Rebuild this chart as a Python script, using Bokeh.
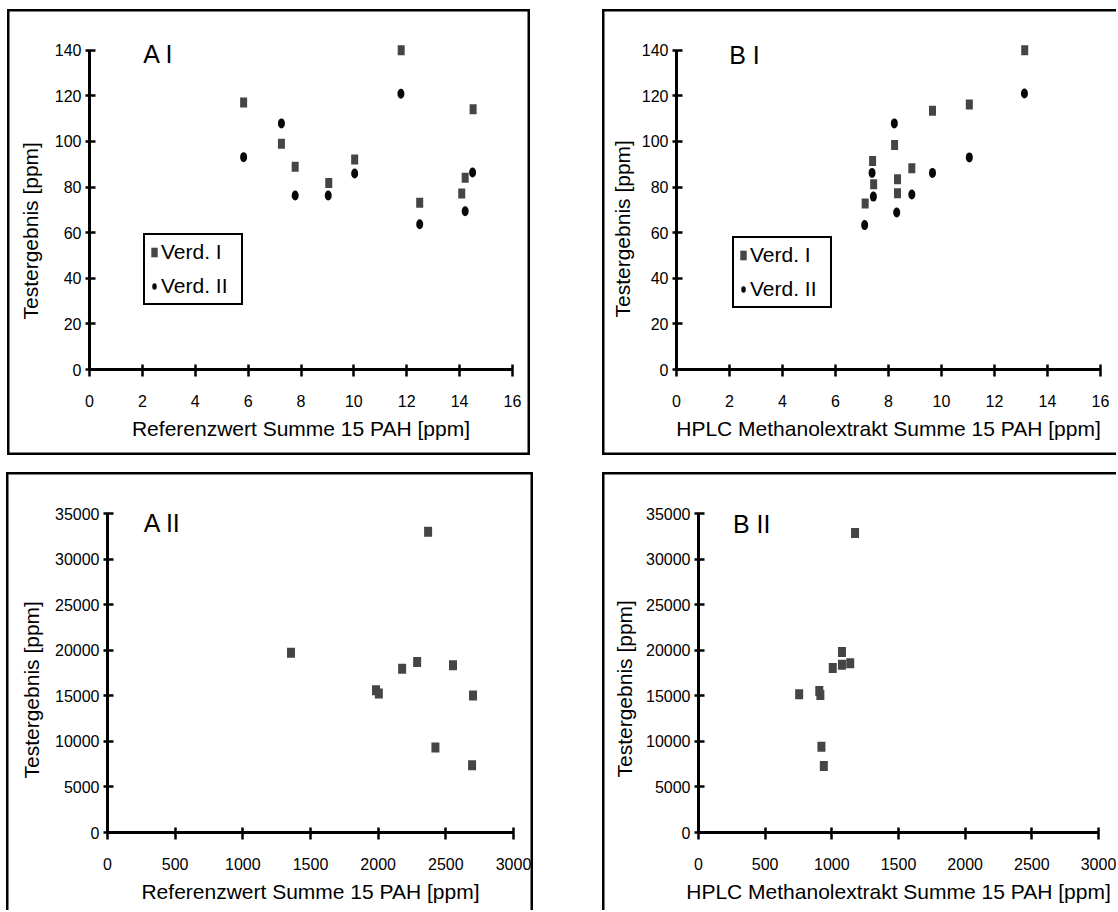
from bokeh.plotting import figure
from bokeh.models import Range1d, Label, FixedTicker, Title
from bokeh.layouts import column, row
from bokeh.embed import file_html
from bokeh.resources import INLINE

# ---------------- data ----------------
# Panel A I : Testergebnis vs Referenzwert
ai_ref_v1 = [5.83, 7.26, 7.78, 9.05, 10.03, 11.79, 12.49, 14.08, 14.21, 14.51]
ai_test_v1 = [117.1, 99.0, 88.9, 81.8, 92.1, 140.0, 73.1, 77.2, 84.1, 114.1]
ai_ref_v2 = [5.83, 7.26, 7.78, 9.03, 10.03, 11.78, 12.49, 14.21, 14.49]
ai_test_v2 = [93.1, 107.9, 76.3, 76.3, 85.9, 120.9, 63.7, 69.4, 86.4]

# Panel B I : Testergebnis vs HPLC Methanolextrakt
bi_hplc_v1 = [13.14, 11.05, 9.66, 8.23, 7.40, 8.88, 8.34, 7.44, 8.34, 7.12]
bi_test_v1 = [140.0, 116.2, 113.5, 98.4, 91.4, 88.2, 83.4, 81.2, 77.3, 72.8]
bi_hplc_v2 = [13.13, 8.22, 11.05, 7.38, 9.66, 8.88, 7.43, 8.31, 7.10]
bi_test_v2 = [121.0, 107.9, 93.0, 86.2, 86.2, 76.7, 75.8, 68.8, 63.3]

# Panel A II
aii_ref = [1356, 2369, 1984, 2005, 2177, 2288, 2553, 2701, 2423, 2694]
aii_test = [19724, 32995, 15604, 15240, 17974, 18703, 18339, 15021, 9333, 7365]

# Panel B II
bii_hplc = [1174, 1076, 1007, 1076, 1138, 755, 906, 914, 922, 940]
bii_test = [32871, 19809, 18041, 18402, 18582, 15155, 15515, 15082, 9418, 7289]

ticks_small_x = [0, 2, 4, 6, 8, 10, 12, 14, 16]
ticks_small_y = [0, 20, 40, 60, 80, 100, 120, 140]
ticks_big_x = [0, 500, 1000, 1500, 2000, 2500, 3000]
ticks_big_y = [0, 5000, 10000, 15000, 20000, 25000, 30000, 35000]

label_ref = "Referenzwert Summe 15 PAH [ppm]"
label_hplc = "HPLC Methanolextrakt Summe 15 PAH [ppm]"
label_y = "Testergebnis [ppm]"
names = ["Verd. I", "Verd. II"]

# ---------------- styling ----------------
FONT = "Liberation Sans"
SQ_COLOR = "#454545"
CIRC_COLOR = "#080808"
TICK_FS = "16px"
TITLE_FS = "21px"


def frame_css(sides):
    w = "2.5px"
    parts = []
    if "l" in sides:
        parts.append(f"inset {w} 0 0 0 #000")
    if "t" in sides:
        parts.append(f"inset 0 {w} 0 0 #000")
    if "r" in sides:
        parts.append(f"inset -{w} 0 0 0 #000")
    if "b" in sides:
        parts.append(f"inset 0 -{w} 0 0 #000")
    return {"box-shadow": ", ".join(parts)}


def panel(width, height, xr, yr, xb, yb, xticks, yticks, borders, margin, sides,
          xlabel, ytitle_offset, ytitle_standoff):
    p = figure(width=width, height=height,
               x_range=Range1d(*xr), y_range=Range1d(*yr),
               output_backend="svg", toolbar_location=None,
               min_border_left=borders[0], min_border_right=borders[1],
               min_border_top=borders[2], min_border_bottom=borders[3],
               margin=margin, styles=frame_css(sides))
    p.background_fill_color = None
    p.border_fill_color = None
    p.outline_line_color = None
    p.grid.visible = False
    for ax, ticks, b in ((p.xaxis[0], xticks, xb), (p.yaxis[0], yticks, yb)):
        ax.ticker = FixedTicker(ticks=ticks)
        ax.bounds = b
        ax.axis_line_width = 3
        ax.axis_line_color = "black"
        ax.major_tick_line_width = 2.5
        ax.major_tick_line_color = "black"
        ax.minor_tick_line_color = None
        ax.major_label_text_font = FONT
        ax.major_label_text_font_size = TICK_FS
        ax.major_label_text_color = "black"
    p.xaxis.major_tick_in = 5
    p.xaxis.major_tick_out = 7
    p.yaxis.major_tick_in = 6
    p.yaxis.major_tick_out = 4
    p.xaxis.major_label_standoff = 18
    p.yaxis.major_label_standoff = 4
    p.xaxis.axis_label = xlabel
    p.xaxis.axis_label_text_font = FONT
    p.xaxis.axis_label_text_font_size = TITLE_FS
    p.xaxis.axis_label_text_font_style = "normal"
    p.xaxis.axis_label_text_color = "black"
    p.xaxis.axis_label_standoff = 7
    p.add_layout(Title(text=label_y, align="left", offset=ytitle_offset,
                       vertical_align="bottom", standoff=ytitle_standoff,
                       text_font=FONT, text_font_size=TITLE_FS,
                       text_font_style="normal", text_color="black"), "left")
    return p


def add_tag(p, tag, tag_x, tag_y):
    p.add_layout(Label(x=tag_x, y=tag_y, text=tag, text_font=FONT,
                       text_font_size="25px", text_baseline="alphabetic",
                       text_align="left", text_color="black"))


def style_legend(p, loc):
    lg = p.legend[0]
    lg.location = loc
    lg.border_line_color = "black"
    lg.border_line_alpha = 1.0
    lg.border_line_width = 2
    lg.background_fill_color = "white"
    lg.background_fill_alpha = 1.0
    lg.padding = 5
    lg.spacing = 10
    lg.margin = 0
    lg.label_standoff = 3
    lg.glyph_width = 8
    lg.glyph_height = 12
    lg.label_width = 75
    lg.label_text_font = FONT
    lg.label_text_font_size = TITLE_FS
    lg.label_text_color = "black"


# ---------------- A I ----------------
pA1 = panel(523, 446, (0, 16), (0, 146), (0, 16), (0, 140),
            ticks_small_x, ticks_small_y, (82, 18, 27, 83), (9, 0, 0, 7), "ltrb",
            label_ref, 50, 19)
pA1.rect(ai_ref_v1, ai_test_v1, width=7, height=10, width_units="screen", height_units="screen",
         fill_color=SQ_COLOR, line_color=None, legend_label=names[0])
pA1.ellipse(ai_ref_v2, ai_test_v2, width=7, height=10, width_units="screen", height_units="screen",
            fill_color=CIRC_COLOR, line_color=None, legend_label=names[1])
style_legend(pA1, (54, 64))
add_tag(pA1, "A I", 2.03, 138.2)

# ---------------- B I ----------------
pB1 = panel(514, 446, (0, 16), (0, 146), (0, 16), (0, 140),
            ticks_small_x, ticks_small_y, (74, 16, 26, 86), (9, 0, 0, 72), "ltb",
            label_hplc, 52, 10)
pB1.rect(bi_hplc_v1, bi_test_v1, width=7, height=10, width_units="screen", height_units="screen",
         fill_color=SQ_COLOR, line_color=None, legend_label=names[0])
pB1.ellipse(bi_hplc_v2, bi_test_v2, width=7, height=10, width_units="screen", height_units="screen",
            fill_color=CIRC_COLOR, line_color=None, legend_label=names[1])
style_legend(pB1, (56, 61))
add_tag(pB1, "B I", 1.99, 137.8)

# ---------------- A II ----------------
pA2 = panel(527, 438, (0, 3000), (0, 35000), (0, 3000), (0, 35000),
            ticks_big_x, ticks_big_y, (101, 20, 41, 78), (17, 0, 0, 6), "ltr",
            label_ref, 54, 20)
pA2.rect(aii_ref, aii_test, width=8, height=10, width_units="screen", height_units="screen",
         fill_color=SQ_COLOR, line_color=None)
add_tag(pA2, "A II", 267, 33976)

# ---------------- B II ----------------
pB2 = panel(514, 438, (0, 3000), (0, 35000), (0, 3000), (0, 35000),
            ticks_big_x, ticks_big_y, (96, 18, 38, 77), (17, 0, 0, 69), "lt",
            label_hplc, 55, 16)
pB2.rect(bii_hplc, bii_test, width=8, height=10, width_units="screen", height_units="screen",
         fill_color=SQ_COLOR, line_color=None)
add_tag(pB2, "B II", 258, 33886)

layout = column(row(pA1, pB1), row(pA2, pB2))

open("out.html", "w").write(file_html(layout, INLINE))
